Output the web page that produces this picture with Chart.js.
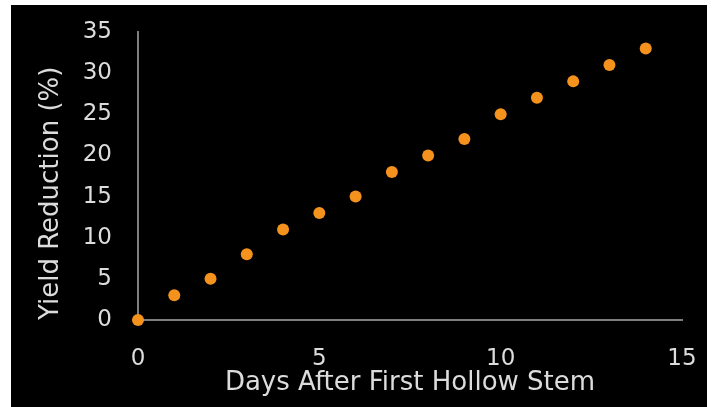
<!DOCTYPE html>
<html>
<head>
<meta charset="utf-8">
<script src="https://cdn.jsdelivr.net/npm/chart.js@4/dist/chart.umd.min.js"></script>
<style>
  html, body { margin: 0; padding: 0; background: #ffffff; }
  #wrap { position: absolute; left: 11px; top: 5px; width: 696px; height: 402px; background: #000000; }
  canvas { display: block; }
</style>
</head>
<body>
<div id="wrap"><canvas id="c" width="696" height="402"></canvas></div>
<script>
const days = [0, 1, 2, 3, 4, 5, 6, 7, 8, 9, 10, 11, 12, 13, 14];
const yieldReduction = [0, 3, 5, 8, 11, 13, 15, 18, 20, 22, 25, 27, 29, 31, 33];
const xTitle = 'Days After First Hollow Stem';
const yTitle = 'Yield Reduction (%)';

const points = days.map((d, i) => ({ x: d, y: yieldReduction[i] }));
const FONT = 'DejaVu Sans';
const textColor = '#dcdcdc';

new Chart(document.getElementById('c'), {
  type: 'scatter',
  data: {
    datasets: [{
      data: points,
      backgroundColor: '#F5921E',
      borderColor: '#F5921E',
      pointRadius: 6,
      pointHoverRadius: 6,
      borderWidth: 0,
      clip: false
    }]
  },
  options: {
    responsive: false,
    animation: false,
    devicePixelRatio: 1,
    layout: { padding: { top: 27, right: 25, left: 0, bottom: 0 } },
    plugins: { legend: { display: false }, tooltip: { enabled: false } },
    scales: {
      x: {
        type: 'linear', min: 0, max: 15,
        grid: { display: false, drawTicks: false },
        border: { display: true, color: '#7f7f7f', width: 2 },
        ticks: { stepSize: 5, color: textColor, padding: 25, font: { family: FONT, size: 23 } },
        title: { display: true, text: xTitle, color: textColor, padding: { top: 0, bottom: 8 }, font: { family: FONT, size: 26 } },
        afterFit: s => { s.height = 87; s.paddingLeft = 0; s.paddingRight = 0; }
      },
      y: {
        type: 'linear', min: 0, max: 35,
        grid: { display: false, drawTicks: false },
        border: { display: true, color: '#7f7f7f', width: 2 },
        ticks: { stepSize: 5, color: textColor, padding: 26, font: { family: FONT, size: 23 } },
        title: { display: true, text: yTitle, align: 'start', color: textColor, padding: { top: 25, bottom: 0 }, font: { family: FONT, size: 26 } },
        afterFit: s => { s.width = 127; s.paddingTop = 0; s.paddingBottom = 0; }
      }
    }
  }
});
</script>
</body>
</html>
